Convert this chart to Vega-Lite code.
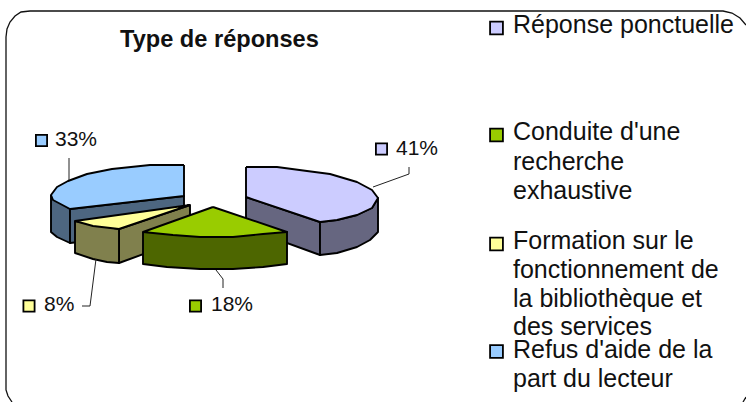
{"$schema":"https://vega.github.io/schema/vega-lite/v6.json","width":746,"height":402,"padding":0,"autosize":{"type":"fit","contains":"padding"},"background":"white","view":{"stroke":null},"datasets":{"faces":[
{"f":"a_blue_side","part":"blue_dark","i":0,"x":51,"y":195},{"f":"a_blue_side","part":"blue_dark","i":1,"x":51,"y":232},{"f":"a_blue_side","part":"blue_dark","i":2,"x":57,"y":237},{"f":"a_blue_side","part":"blue_dark","i":3,"x":70,"y":243},{"f":"a_blue_side","part":"blue_dark","i":4,"x":70,"y":209},{"f":"a_blue_side","part":"blue_dark","i":5,"x":51,"y":195},
{"f":"b_blue_face","part":"blue_dark","i":0,"x":70,"y":209},{"f":"b_blue_face","part":"blue_dark","i":1,"x":184,"y":196},{"f":"b_blue_face","part":"blue_dark","i":2,"x":184,"y":230},{"f":"b_blue_face","part":"blue_dark","i":3,"x":70,"y":243},{"f":"b_blue_face","part":"blue_dark","i":4,"x":70,"y":209},
{"f":"c_blue_top","part":"blue","i":0,"x":184,"y":165},{"f":"c_blue_top","part":"blue","i":1,"x":150,"y":165},{"f":"c_blue_top","part":"blue","i":2,"x":131,"y":167},{"f":"c_blue_top","part":"blue","i":3,"x":112,"y":169},{"f":"c_blue_top","part":"blue","i":4,"x":87,"y":174},{"f":"c_blue_top","part":"blue","i":5,"x":68,"y":181},{"f":"c_blue_top","part":"blue","i":6,"x":57,"y":187},{"f":"c_blue_top","part":"blue","i":7,"x":51,"y":195},{"f":"c_blue_top","part":"blue","i":8,"x":53,"y":200},{"f":"c_blue_top","part":"blue","i":9,"x":70,"y":209},{"f":"c_blue_top","part":"blue","i":10,"x":184,"y":196},{"f":"c_blue_top","part":"blue","i":11,"x":184,"y":165},
{"f":"d_lilac_left","part":"lilac_dark","i":0,"x":246,"y":197},{"f":"d_lilac_left","part":"lilac_dark","i":1,"x":320,"y":222},{"f":"d_lilac_left","part":"lilac_dark","i":2,"x":320,"y":255},{"f":"d_lilac_left","part":"lilac_dark","i":3,"x":246,"y":228},{"f":"d_lilac_left","part":"lilac_dark","i":4,"x":246,"y":197},
{"f":"e_lilac_right","part":"lilac_dark","i":0,"x":320,"y":222},{"f":"e_lilac_right","part":"lilac_dark","i":1,"x":337,"y":220},{"f":"e_lilac_right","part":"lilac_dark","i":2,"x":357,"y":215},{"f":"e_lilac_right","part":"lilac_dark","i":3,"x":372,"y":208},{"f":"e_lilac_right","part":"lilac_dark","i":4,"x":378,"y":198},{"f":"e_lilac_right","part":"lilac_dark","i":5,"x":378,"y":232},{"f":"e_lilac_right","part":"lilac_dark","i":6,"x":370,"y":240},{"f":"e_lilac_right","part":"lilac_dark","i":7,"x":357,"y":247},{"f":"e_lilac_right","part":"lilac_dark","i":8,"x":337,"y":253},{"f":"e_lilac_right","part":"lilac_dark","i":9,"x":320,"y":255},{"f":"e_lilac_right","part":"lilac_dark","i":10,"x":320,"y":222},
{"f":"f_lilac_top","part":"lilac","i":0,"x":246,"y":167},{"f":"f_lilac_top","part":"lilac","i":1,"x":277,"y":167},{"f":"f_lilac_top","part":"lilac","i":2,"x":307,"y":171},{"f":"f_lilac_top","part":"lilac","i":3,"x":330,"y":174},{"f":"f_lilac_top","part":"lilac","i":4,"x":357,"y":182},{"f":"f_lilac_top","part":"lilac","i":5,"x":372,"y":190},{"f":"f_lilac_top","part":"lilac","i":6,"x":378,"y":198},{"f":"f_lilac_top","part":"lilac","i":7,"x":372,"y":208},{"f":"f_lilac_top","part":"lilac","i":8,"x":357,"y":215},{"f":"f_lilac_top","part":"lilac","i":9,"x":337,"y":220},{"f":"f_lilac_top","part":"lilac","i":10,"x":320,"y":222},{"f":"f_lilac_top","part":"lilac","i":11,"x":246,"y":197},{"f":"f_lilac_top","part":"lilac","i":12,"x":246,"y":167},
{"f":"g_olive_right","part":"yellow_dark","i":0,"x":119,"y":229},{"f":"g_olive_right","part":"yellow_dark","i":1,"x":190,"y":205},{"f":"g_olive_right","part":"yellow_dark","i":2,"x":190,"y":237},{"f":"g_olive_right","part":"yellow_dark","i":3,"x":119,"y":263},{"f":"g_olive_right","part":"yellow_dark","i":4,"x":119,"y":229},
{"f":"h_olive_left","part":"yellow_dark","i":0,"x":75,"y":221},{"f":"h_olive_left","part":"yellow_dark","i":1,"x":75,"y":253},{"f":"h_olive_left","part":"yellow_dark","i":2,"x":93,"y":259},{"f":"h_olive_left","part":"yellow_dark","i":3,"x":107,"y":262},{"f":"h_olive_left","part":"yellow_dark","i":4,"x":119,"y":263},{"f":"h_olive_left","part":"yellow_dark","i":5,"x":119,"y":229},{"f":"h_olive_left","part":"yellow_dark","i":6,"x":75,"y":221},
{"f":"i_yellow_top","part":"yellow","i":0,"x":190,"y":205},{"f":"i_yellow_top","part":"yellow","i":1,"x":75,"y":221},{"f":"i_yellow_top","part":"yellow","i":2,"x":93,"y":226},{"f":"i_yellow_top","part":"yellow","i":3,"x":119,"y":229},{"f":"i_yellow_top","part":"yellow","i":4,"x":190,"y":205},
{"f":"j_green_side","part":"green_dark","i":0,"x":143,"y":232},{"f":"j_green_side","part":"green_dark","i":1,"x":143,"y":264},{"f":"j_green_side","part":"green_dark","i":2,"x":167,"y":267},{"f":"j_green_side","part":"green_dark","i":3,"x":200,"y":269},{"f":"j_green_side","part":"green_dark","i":4,"x":233,"y":269},{"f":"j_green_side","part":"green_dark","i":5,"x":263,"y":267},{"f":"j_green_side","part":"green_dark","i":6,"x":287,"y":264},{"f":"j_green_side","part":"green_dark","i":7,"x":287,"y":232},{"f":"j_green_side","part":"green_dark","i":8,"x":143,"y":232},
{"f":"k_green_top","part":"green","i":0,"x":213,"y":207},{"f":"k_green_top","part":"green","i":1,"x":287,"y":232},{"f":"k_green_top","part":"green","i":2,"x":263,"y":234},{"f":"k_green_top","part":"green","i":3,"x":233,"y":237},{"f":"k_green_top","part":"green","i":4,"x":200,"y":237},{"f":"k_green_top","part":"green","i":5,"x":173,"y":235},{"f":"k_green_top","part":"green","i":6,"x":143,"y":232},{"f":"k_green_top","part":"green","i":7,"x":213,"y":207}
],"lines":[
{"l":"frame","i":0,"x":12,"y":402},{"l":"frame","i":1,"x":8,"y":396},{"l":"frame","i":2,"x":6,"y":390},{"l":"frame","i":3,"x":6,"y":37},{"l":"frame","i":4,"x":7,"y":29},{"l":"frame","i":5,"x":10,"y":22},{"l":"frame","i":6,"x":15,"y":16},{"l":"frame","i":7,"x":21,"y":12},{"l":"frame","i":8,"x":30,"y":11},{"l":"frame","i":9,"x":723,"y":11},{"l":"frame","i":10,"x":732,"y":13},{"l":"frame","i":11,"x":740,"y":18},{"l":"frame","i":12,"x":746,"y":25},
{"l":"frame2","i":0,"x":746,"y":397},{"l":"frame2","i":1,"x":743,"y":402},
{"l":"l33","i":0,"x":69,"y":158},{"l":"l33","i":1,"x":69,"y":180},
{"l":"l8","i":0,"x":82,"y":306},{"l":"l8","i":1,"x":90,"y":306},{"l":"l8","i":2,"x":96,"y":259},
{"l":"l18","i":0,"x":223,"y":288},{"l":"l18","i":1,"x":223,"y":279},{"l":"l18","i":2,"x":216,"y":270},
{"l":"l41","i":0,"x":409,"y":167},{"l":"l41","i":1,"x":409,"y":174},{"l":"l41","i":2,"x":373,"y":187}
],"small":[
{"part":"blue","x":41.5,"y":140.5,"t":"33%","tx":55,"ty":146},
{"part":"lilac","x":381.5,"y":149,"t":"41%","tx":396,"ty":155},
{"part":"green","x":195.5,"y":306,"t":"18%","tx":211,"ty":311},
{"part":"yellow","x":29,"y":306,"t":"8%","tx":44,"ty":311}
],"big":[
{"part":"lilac","x":496.5,"y":28},{"part":"green","x":496.5,"y":135},{"part":"yellow","x":496.5,"y":244},{"part":"blue","x":496.5,"y":351.5}
],"legend":[
{"t":"Réponse ponctuelle","x":513,"y":33},{"t":"Conduite d'une","x":513,"y":140},{"t":"recherche","x":513,"y":170},{"t":"exhaustive","x":513,"y":199},{"t":"Formation sur le","x":513,"y":249},{"t":"fonctionnement de","x":513,"y":278},{"t":"la bibliothèque et","x":513,"y":307},{"t":"des services","x":513,"y":335},{"t":"Refus d'aide de la","x":513,"y":358},{"t":"part du lecteur","x":513,"y":387}
],"title":[{"t":"Type de réponses","x":120,"y":47}]},
"encoding":{"x":{"field":"x","type":"quantitative","scale":{"domain":[0,746],"nice":false,"zero":false},"axis":null},"y":{"field":"y","type":"quantitative","scale":{"domain":[402,0],"nice":false,"zero":false},"axis":null}},
"layer":[
{"data":{"name":"lines"},"transform":[{"filter":"datum.l=='frame'||datum.l=='frame2'"}],"mark":{"type":"line","stroke":"#111","strokeWidth":1.3,"clip":true},"encoding":{"detail":{"field":"l"},"order":{"field":"i","type":"quantitative"}}},
{"data":{"name":"faces"},"mark":{"type":"line","stroke":"black","strokeWidth":1.9,"strokeJoin":"round"},"encoding":{"detail":{"field":"f"},"order":{"field":"i","type":"quantitative"},"fill":{"field":"part","legend":null,"scale":{"domain":["blue","blue_dark","lilac","lilac_dark","green","green_dark","yellow","yellow_dark"],"range":["#99CCFF","#4D6680","#CCCCFF","#666680","#99CC00","#4D6600","#FFFF99","#80804D"]}}}},
{"data":{"name":"lines"},"transform":[{"filter":"datum.l!='frame'&&datum.l!='frame2'"}],"mark":{"type":"line","stroke":"#222","strokeWidth":1},"encoding":{"detail":{"field":"l"},"order":{"field":"i","type":"quantitative"}}},
{"data":{"name":"small"},"mark":{"type":"point","shape":"square","filled":true,"size":125,"stroke":"black","strokeWidth":1.8,"opacity":1},"encoding":{"fill":{"field":"part","legend":null,"scale":{"domain":["blue","blue_dark","lilac","lilac_dark","green","green_dark","yellow","yellow_dark"],"range":["#99CCFF","#4D6680","#CCCCFF","#666680","#99CC00","#4D6600","#FFFF99","#80804D"]}}}},
{"data":{"name":"big"},"mark":{"type":"point","shape":"square","filled":true,"size":165,"stroke":"black","strokeWidth":1.8,"opacity":1},"encoding":{"fill":{"field":"part","legend":null,"scale":{"domain":["blue","blue_dark","lilac","lilac_dark","green","green_dark","yellow","yellow_dark"],"range":["#99CCFF","#4D6680","#CCCCFF","#666680","#99CC00","#4D6600","#FFFF99","#80804D"]}}}},
{"data":{"name":"small"},"mark":{"type":"text","font":"Liberation Sans","fontSize":21,"align":"left","baseline":"alphabetic","color":"#111"},"encoding":{"x":{"field":"tx","type":"quantitative"},"y":{"field":"ty","type":"quantitative"},"text":{"field":"t"}}},
{"data":{"name":"legend"},"mark":{"type":"text","font":"Liberation Sans","fontSize":25,"align":"left","baseline":"alphabetic","color":"#111"},"encoding":{"text":{"field":"t"}}},
{"data":{"name":"title"},"mark":{"type":"text","font":"Liberation Sans","fontSize":23.6,"fontWeight":"bold","align":"left","baseline":"alphabetic","color":"#111"},"encoding":{"text":{"field":"t"}}}
]}
